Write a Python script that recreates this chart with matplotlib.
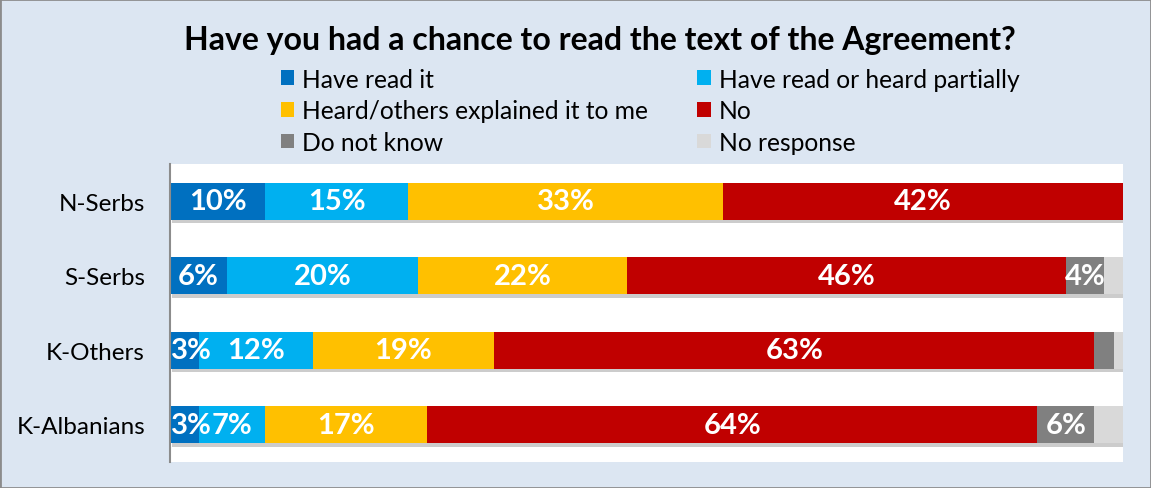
import matplotlib.pyplot as plt
from matplotlib.patches import Patch, Rectangle
import matplotlib.patheffects as pe
import numpy as np

plt.rcParams['font.family'] = ['Lato', 'DejaVu Sans']

groups = ['N-Serbs', 'S-Serbs', 'K-Others', 'K-Albanians']
answers = ['Have read it', 'Have read or heard partially',
           'Heard/others explained it to me', 'No',
           'Do not know', 'No response']
colors = ['#0070C0', '#00B0F0', '#FFC000', '#C00000', '#808080', '#D9D9D9']

read_it = [10, 6, 3, 3]
partially = [15, 20, 12, 7]
heard = [33, 22, 19, 17]
no = [42, 46, 63, 64]
dont_know = [0, 4, 2, 6]
no_resp = [0, 2, 1, 3]
values = np.array([read_it, partially, heard, no, dont_know, no_resp], dtype=float)

fig = plt.figure(figsize=(11.51, 4.89), dpi=100)
fig.patch.set_facecolor('#DCE6F2')
fig.patches.append(Rectangle((0, 0), 1, 1, transform=fig.transFigure,
                             fill=False, edgecolor='#8C8C8C', linewidth=2))

ax = fig.add_axes([0.1477, 0.0532, 0.828, 0.6094])
ax.set_facecolor('white')

y = np.arange(len(groups))
shadow = [pe.SimplePatchShadow(offset=(1.5, -2.5), shadow_rgbFace='#9a9a9a', alpha=0.5), pe.Normal()]
left = np.zeros(len(groups))
for i, (name, col) in enumerate(zip(answers, colors)):
    bars = ax.barh(y, values[i], left=left, height=0.5, color=col,
                   edgecolor='none', label=name, path_effects=shadow)
    for b, v in zip(bars, values[i]):
        if v < 3 or i == 5:
            continue
        cy = b.get_y() + b.get_height() / 2
        if b.get_x() == 0 and v < 5:
            # narrow first segment: keep the label inside the axes
            ax.text(0.15, cy, f'{v:.0f}%', ha='left', va='center', color='white',
                    fontsize=21, fontweight='bold')
        else:
            ax.text(b.get_x() + b.get_width() / 2, cy, f'{v:.0f}%', ha='center',
                    va='center', color='white', fontsize=21, fontweight='bold')
    left += values[i]

ax.set_xlim(0, 100)
ax.set_ylim(3.5, -0.5)
ax.set_yticks(y)
ax.set_yticklabels(groups, fontsize=17.5)
ax.tick_params(axis='y', length=0, pad=18)
ax.set_xticks([])
for s in ['top', 'right', 'bottom']:
    ax.spines[s].set_visible(False)
ax.spines['left'].set_color('#8C8C8C')
ax.spines['left'].set_linewidth(1.5)
ax.spines['left'].set_zorder(5)

fig.text(0.5216, 0.918, 'Have you had a chance to read the text of the Agreement?',
         ha='center', va='center', fontsize=23, fontweight='bold')

order = [0, 2, 4, 1, 3, 5]
handles = [Patch(facecolor=colors[k], edgecolor='none') for k in order]
labels = [answers[k] for k in order]
fig.legend(handles, labels, ncol=2, loc='upper left', bbox_to_anchor=(0.2245, 0.905),
           frameon=False, fontsize=17.7, handlelength=0.55, handleheight=0.55,
           handletextpad=0.33, columnspacing=2.0, labelspacing=0.35)

fig.savefig('out.png', dpi=100, facecolor=fig.get_facecolor())
